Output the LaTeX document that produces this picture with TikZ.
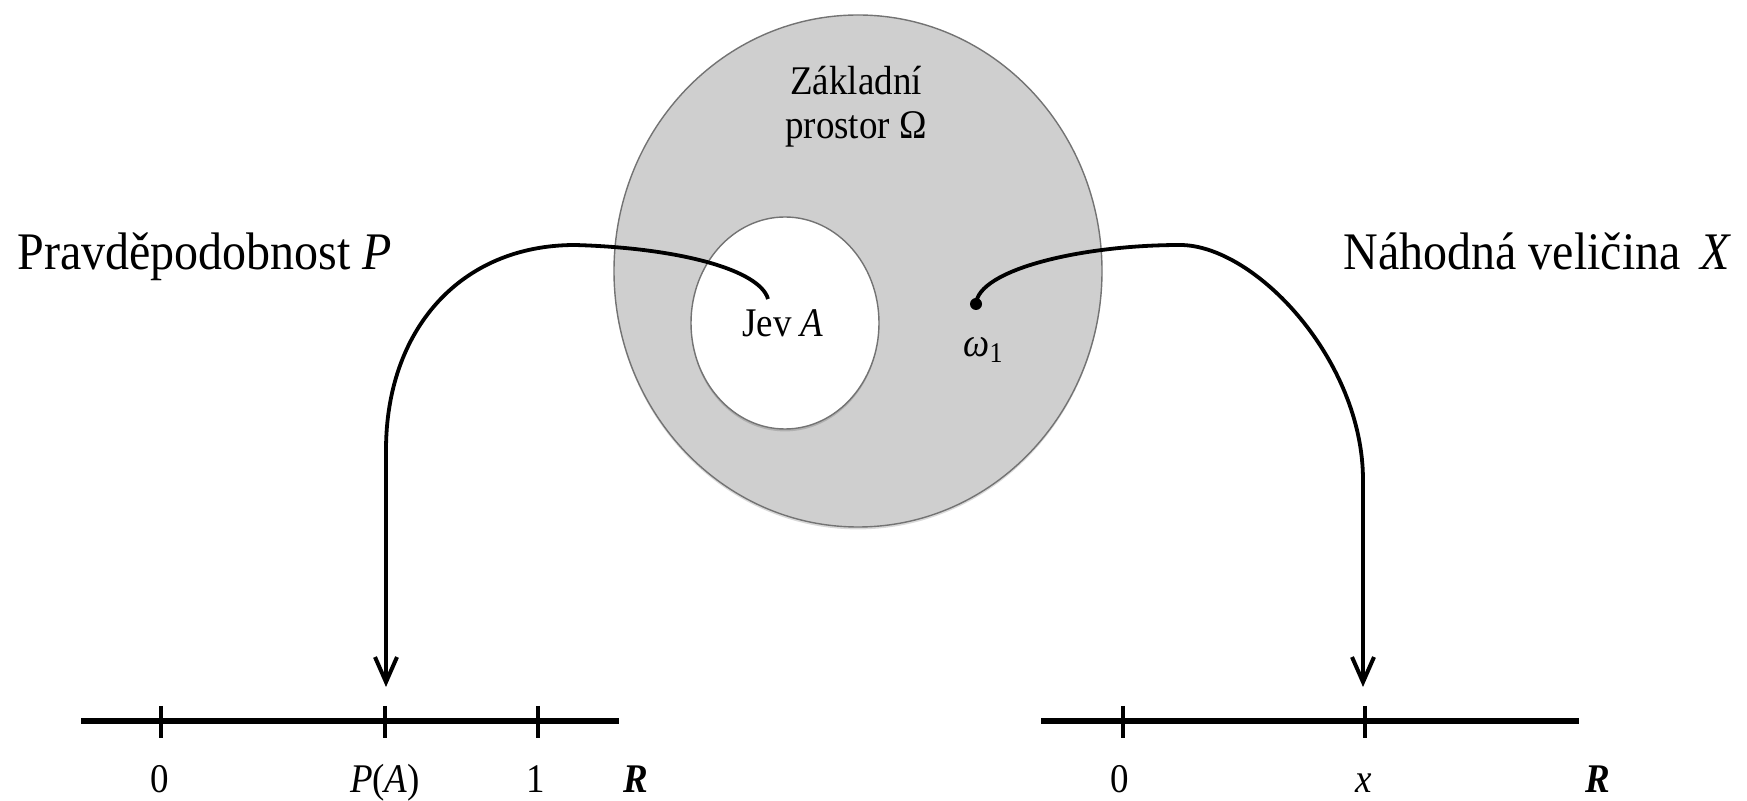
\documentclass[tikz,border=0pt]{standalone}
\usepackage{fontspec}
\setmainfont{Liberation Serif}
\usepackage{graphicx}
\usetikzlibrary{shapes.geometric,arrows.meta,shadows}
\newcommand\vst[1]{\scalebox{1}[1.1]{#1}}
\begin{document}
\begin{tikzpicture}[x=0.5pt,y=-0.5pt,
  big/.style={font=\fontsize{24}{28}\selectfont, inner sep=0pt},
  small/.style={font=\fontsize{18.5}{20}\selectfont, inner sep=0pt},
  setshape/.style={ellipse, draw=black!55, line width=0.7pt, inner sep=0pt,
    drop shadow={shadow xshift=0pt, shadow yshift=-1.2pt, opacity=0.15, fill=black}},
  maparrow/.style={line width=1.9pt, -{Straight Barb[length=12.5pt,width=11pt,line width=2pt]}},
  axisline/.style={line width=3pt},
  tickmark/.style={line width=2pt}
]
\useasboundingbox (0,0) rectangle (1747,801);

% sets
\node[setshape, fill=black!19, minimum width=244pt, minimum height=256pt] (space) at (858,271) {};
\node[setshape, fill=white, minimum width=94pt, minimum height=106pt] (event) at (785,323) {};

% labels inside
\node[small, anchor=base] (spacelabel) at (856,95)
  {\vst{\begin{tabular}[t]{@{}c@{}}Základní\\prostor Ω\end{tabular}}};
\node[small, anchor=base] (eventlabel) at (783,337) {\vst{Jev \textit{A}}};
\node[circle, fill=black, inner sep=0pt, minimum size=6pt] (w1) at (976,304) {};
\node[small, anchor=base west] (w1label) at (963,357)
  {\vst{\textit{ω}\raisebox{-0.3ex}{\fontsize{13}{13}\selectfont 1}}};

% side labels
\node[big, anchor=base west] (plabel) at (17,270) {\vst{Pravděpodobnost \textit{P}}};
\node[big, anchor=base east] (xlabel) at (1732,270) {\vst{Náhodná veličina \,\textit{X}}};

% left axis
\coordinate (laL) at (81,721);
\coordinate (laR) at (619,721);
\coordinate (t0) at (161,721);
\coordinate (tPA) at (385,721);
\coordinate (t1) at (538,721);
\draw[axisline] (laL) -- (laR);
\foreach \t in {t0,tPA,t1} \draw[tickmark] (\t) ++(0,-15) -- ++(0,32);
\node[small, anchor=base] (l0) at (160,793) {\vst{0}};
\node[small, anchor=base] (lPA) at (385,793) {\vst{\textit{P}(\textit{A})}};
\node[small, anchor=base] (l1) at (536,793) {\vst{1}};
\node[small, anchor=base] (lR) at (636,793) {\vst{\textbf{\textit{R}}}};

% right axis
\coordinate (raL) at (1041,721);
\coordinate (raR) at (1579,721);
\coordinate (r0) at (1123,721);
\coordinate (rx) at (1365,721);
\draw[axisline] (raL) -- (raR);
\foreach \t in {r0,rx} \draw[tickmark] (\t) ++(0,-15) -- ++(0,32);
\node[small, anchor=base] (m0) at (1120,793) {\vst{0}};
\node[small, anchor=base] (mx) at (1364,793) {\vst{\textit{x}}};
\node[small, anchor=base] (mR) at (1598,793) {\vst{\textbf{\textit{R}}}};

% mappings
\coordinate (jevEnd) at (768,299);
\coordinate (paTop) at (386,687);
\coordinate (xTop) at (1363,687);
\draw[maparrow] (jevEnd) .. controls (760,270) and (680,248) .. (575,245)
  .. controls (460,245) and (386,330) .. (386,450) -- (paTop);
\draw[maparrow] (w1.center) .. controls (978,270) and (1080,245) .. (1180,245)
  .. controls (1255,245) and (1363,360) .. (1363,480) -- (xTop);
\end{tikzpicture}
\end{document}
